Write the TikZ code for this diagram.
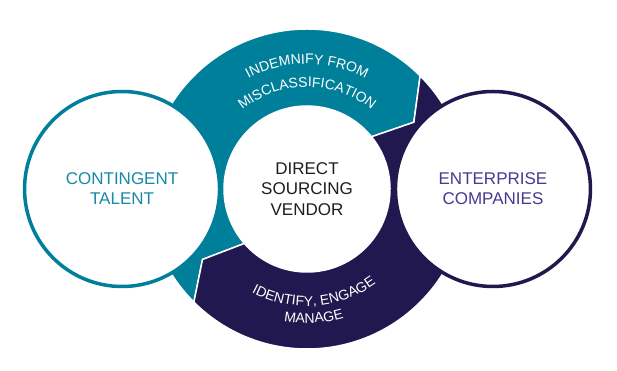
\documentclass[tikz,border=0pt]{standalone}
\usepackage{fontspec}
\setmainfont{Liberation Sans}
\usetikzlibrary{positioning, decorations.text}
\definecolor{dsvteal}{RGB}{0,127,155}
\definecolor{dsvnavy}{RGB}{33,24,80}
\definecolor{dsvtalent}{RGB}{24,137,166}
\definecolor{dsvviolet}{RGB}{72,58,145}
\definecolor{dsvink}{RGB}{30,30,30}

\begin{document}
\begin{tikzpicture}[
  x=1pt, y=1pt,
  party/.style={circle, fill=white, line width=3.5pt, minimum size=195pt,
                inner sep=0pt, align=center, font=\fontsize{17}{20}\selectfont},
  hubnode/.style={circle, fill=white, minimum size=166pt, inner sep=0pt,
                  align=center, text=dsvink, font=\fontsize{17}{20.5}\selectfont},
  segment/.style={draw=white, line width=1.5pt, line join=miter},
  arclabel/.style={decorate, decoration={text along path, text align=center,
                   text color=white}},
]
  \useasboundingbox (0,0) rectangle (617,371);
  \coordinate (hub) at (307,182);

  % Cycle ring
  \begin{scope}[shift={(hub)}]
    \path[segment, fill=dsvteal] (225:160) arc[start angle=225, end angle=45, radius=160pt]
      -- (32:126) -- (39:83) arc[start angle=39, end angle=221, radius=83pt]
      -- (214:126) -- cycle;
    \path[segment, fill=dsvnavy] (45:160) arc[start angle=45, end angle=-135, radius=160pt]
      -- (214:126) -- (221:83) arc[start angle=-139, end angle=39, radius=83pt]
      -- (32:126) -- cycle;

    % Ring labels
    \path[arclabel, decoration={text={|\fontsize{14}{14}\selectfont|INDEMNIFY FROM}}]
      (130:125) arc[start angle=130, end angle=50, radius=125pt];
    \path[arclabel, decoration={text={|\fontsize{14}{14}\selectfont|MISCLASSIFICATION}}]
      (140:102) arc[start angle=140, end angle=40, radius=102pt];
    \path[arclabel, decoration={text={|\fontsize{14}{14}\selectfont|IDENTIFY, ENGAGE}}]
      (225:117) arc[start angle=225, end angle=323, radius=117pt];
    \path[arclabel, decoration={text={|\fontsize{14}{14}\selectfont|MANAGE}}]
      (248:134) arc[start angle=248, end angle=298, radius=134pt];
  \end{scope}

  \node[hubnode] (vendor) at (hub) {DIRECT\\SOURCING\\VENDOR};
  \node[party, draw=dsvteal, text=dsvtalent, left=2.5pt of vendor] (talent) {CONTINGENT\\TALENT};
  \node[party, draw=dsvnavy, text=dsvviolet, right=3.5pt of vendor] (companies) {ENTERPRISE\\COMPANIES};
\end{tikzpicture}
\end{document}
